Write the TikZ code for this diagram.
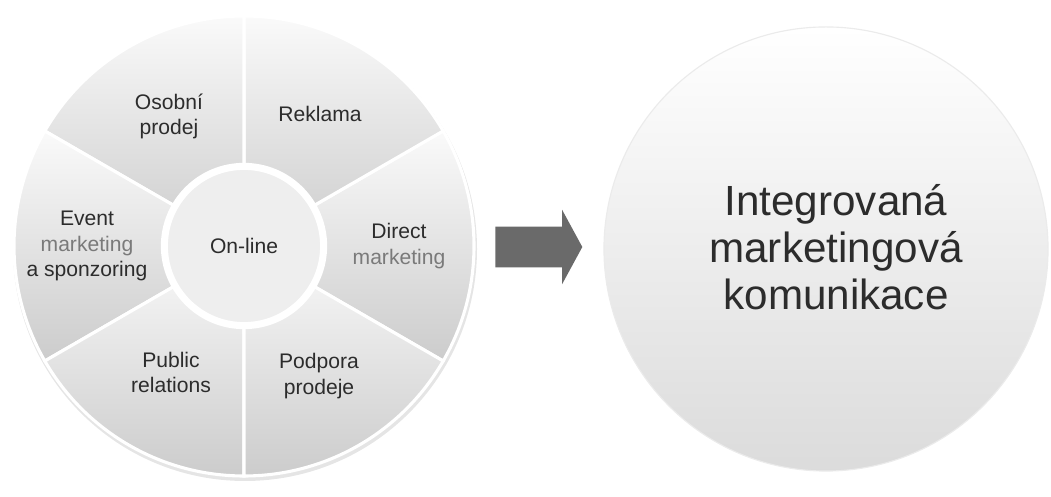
\documentclass[tikz,border=0pt]{standalone}
\usepackage{fontspec}
\setmainfont{Liberation Sans}
\usepackage{xcolor}
\usetikzlibrary{calc, shapes.arrows}

\definecolor{segtop}{HTML}{FAFAFA}
\definecolor{segbot}{HTML}{CCCCCC}
\definecolor{txtgray}{HTML}{2C2C2C}
\definecolor{softtext}{HTML}{7A7A7A}
\definecolor{arrowgray}{HTML}{6A6A6A}

\begin{document}
\begin{tikzpicture}[x=0.025cm, y=0.025cm,
    segment/.style={top color=segtop, bottom color=segbot, draw=white, line width=2.2pt},
    seglabel/.style={align=center, text=txtgray, font=\fontsize{15}{18}\selectfont}]

    % Define parameters
    \def\outerR{230}  % radius of the wheel
    \def\labelR{150}  % distance of the labels from the centre

    \useasboundingbox (0,0) rectangle (1051,497);

    % Coordinates
    \coordinate (L) at (244,251);
    \coordinate (R) at (826,248);

    % Soft rim under the wheel
    \fill[gray!20] ($(L)+(1,-3)$) circle (\outerR+2);

    % Six segments of the wheel
    \foreach \a in {0,60,...,300}
        \shade[segment] (L) -- ++(\a-30:\outerR) arc[start angle=\a-30, end angle=\a+30, radius=\outerR] -- cycle;

    % Centre of the wheel
    \node[circle, fill=gray!13, draw=white, line width=5pt, minimum size=3.98cm,
          seglabel] (online) at (L) {On-line};

    % Segment labels
    \node[seglabel] (direct)  at ($(L)+(0:155)$)   {Direct\\{\color{softtext}marketing}};
    \node[seglabel] (reklama) at ($(L)+(60:152)$)  {Reklama};
    \node[seglabel] (osobni)  at ($(L)+(120:\labelR)$) {Osobní\\prodej};
    \node[seglabel] (event)   at ($(L)+(180:157)$) {Event\\{\color{softtext}marketing}\\a sponzoring};
    \node[seglabel] (pr)      at ($(L)+(240:146)$) {Public\\relations};
    \node[seglabel] (podpora) at ($(L)+(300:\labelR)$) {Podpora\\prodeje};

    % Block arrow between the two circles
    \node[single arrow, fill=arrowgray, single arrow head extend=0.425cm,
          single arrow tip angle=123, inner xsep=0pt, inner ysep=0.5cm,
          minimum height=2.175cm, anchor=tail] (arrow) at (495,250) {};

    % Result circle
    \node[circle, minimum size=11.1cm, top color=white, bottom color=gray!28,
          draw=gray!16, line width=0.8pt] (imk) at (R) {};
    \node[align=center, text=txtgray, font=\fontsize{30}{33.5}\selectfont]
        (imktext) at ($(imk.center)+(10,2)$) {Integrovaná\\marketingová\\komunikace};

\end{tikzpicture}
\end{document}
